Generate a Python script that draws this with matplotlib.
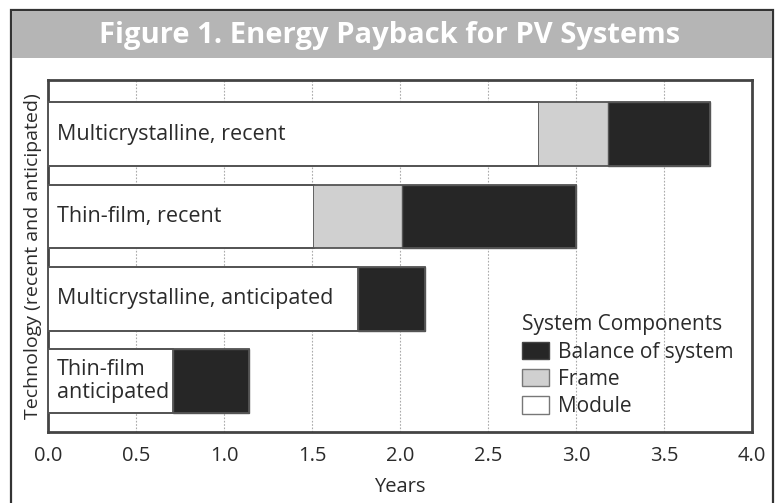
import matplotlib
matplotlib.use("Agg")
import matplotlib.pyplot as plt
from matplotlib.patches import Rectangle, Patch
import numpy as np

# data (years)
labels = ["Multicrystalline, recent", "Thin-film, recent",
          "Multicrystalline, anticipated", "Thin-film\nanticipated"]
module = [2.79, 1.51, 1.76, 0.71]
frame = [0.39, 0.50, 0.0, 0.0]
balance = [0.58, 0.99, 0.38, 0.43]
xticks = [0.0, 0.5, 1.0, 1.5, 2.0, 2.5, 3.0, 3.5, 4.0]

plt.rcParams["font.family"] = ["Open Sans", "DejaVu Sans"]
txt = "#2b2b2b"

W, H = 776, 503
fig = plt.figure(figsize=(W / 100, H / 100), dpi=100, facecolor="white")

# outer frame and title band
fig.patches.append(Rectangle((11 / W, -0.02), 762 / W, 1.02 - 10 / H,
                             transform=fig.transFigure, fc="none",
                             ec="#333333", lw=1.6, zorder=-1))
fig.patches.append(Rectangle((12 / W, 1 - 58 / H), 760 / W, 47 / H,
                             transform=fig.transFigure, fc="#b5b5b5",
                             ec="none", zorder=-1))
fig.text(390 / W, 1 - 35 / H, "Figure 1. Energy Payback for PV Systems",
         ha="center", va="center", color="white", fontsize=21,
         fontweight="bold")

ax = fig.add_axes([48 / W, 1 - 432 / H, 704 / W, 352 / H])
y = np.arange(len(labels))[::-1]
h = 0.775
edge = "#555555"
ax.barh(y, module, height=h, color="white", edgecolor=edge, lw=1.3, zorder=3)
left2 = np.array(module)
ax.barh(y, frame, left=left2, height=h, color="#d0d0d0", edgecolor="none",
        lw=0, zorder=3)
left3 = left2 + np.array(frame)
ax.barh(y, balance, left=left3, height=h, color="#262626", edgecolor=edge,
        lw=1.0, zorder=3)
# outline of whole bar
tot = left3 + np.array(balance)
ax.barh(y, tot, height=h, color="none", edgecolor=edge, lw=1.3, zorder=4)

for yi, lab in zip(y, labels):
    ax.text(0.05, yi, lab, ha="left", va="center", fontsize=15.5, color=txt,
            zorder=5, linespacing=1.15)

ax.set_xlim(0, 4)
ax.set_ylim(-0.62, 3.66)
ax.set_xticks(xticks)
ax.set_xticklabels([f"{v:.1f}" for v in xticks], fontsize=14.5, color=txt)
ax.set_yticks([])
ax.tick_params(axis="x", length=0, pad=10)
ax.grid(axis="x", color="#aaaaaa", ls=(0, (1.5, 1.5)), lw=0.8, zorder=0)
for s in ax.spines.values():
    s.set_color("#444444")
    s.set_linewidth(2)
ax.set_xlabel("Years", fontsize=14.5, color=txt, labelpad=8)
ax.set_ylabel("Technology (recent and anticipated)", fontsize=14,
              color=txt, labelpad=4)

handles = [Patch(fc="#262626", ec="#444444", label="Balance of system"),
           Patch(fc="#d0d0d0", ec="#777777", label="Frame"),
           Patch(fc="white", ec="#777777", label="Module")]
leg = ax.legend(handles=handles, title="System Components", loc="lower left",
                bbox_to_anchor=(0.65, -0.005), frameon=False, fontsize=15,
                title_fontsize=15, handlelength=1.3, handleheight=0.9,
                handletextpad=0.4, labelspacing=0.3, alignment="left",
                borderaxespad=0.4)
for t in leg.get_texts():
    t.set_color(txt)
leg.get_title().set_color(txt)

fig.savefig("out.png", dpi=100)
